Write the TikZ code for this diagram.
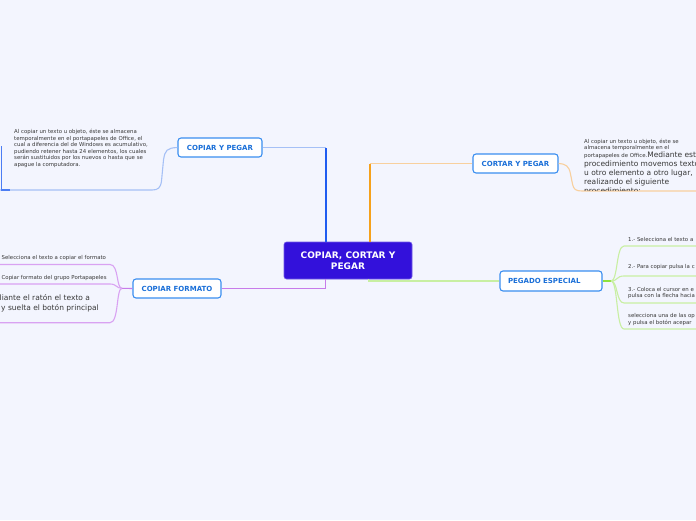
\documentclass[tikz,border=0pt]{standalone}
\usepackage{fontspec}
\setmainfont{DejaVu Sans}
\usetikzlibrary{calc}
\definecolor{bg}{HTML}{F3F5FE}
\definecolor{cfill}{HTML}{3311DB}
\definecolor{tborder}{HTML}{3A8EF0}
\definecolor{ttext}{HTML}{1A6FD8}
\definecolor{txt}{HTML}{383838}
\definecolor{bluedk}{HTML}{1F5CF0}
\definecolor{bluelt}{HTML}{A5C0F6}
\definecolor{orgdk}{HTML}{F5A11C}
\definecolor{orglt}{HTML}{F8D09E}
\definecolor{purp}{HTML}{C77BEA}
\definecolor{purplt}{HTML}{D9A2F2}
\definecolor{grnlt}{HTML}{C8EFA2}
\definecolor{grndk}{HTML}{8FE23C}
\tikzset{
  central/.style={fill=cfill, draw=cfill!70!white, line width=0.6pt, rounded corners=2.5pt,
    minimum width=128pt, minimum height=37pt, inner sep=0pt, text=white, align=center,
    font=\bfseries\fontsize{9}{10.5}\selectfont},
  topic/.style={fill=white, draw=tborder, line width=1.1pt, rounded corners=3pt,
    inner sep=0pt, text=ttext, font=\bfseries\fontsize{7}{8}\selectfont},
  small/.style={anchor=base west, inner sep=0pt, text=txt, font=\fontsize{5.4}{6}\selectfont},
  large/.style={anchor=base west, inner sep=0pt, text=txt, font=\fontsize{7.5}{9}\selectfont},
  bl1/.style={draw=bluedk, line width=1.8pt},
  bl2/.style={draw=bluelt, line width=1.1pt},
  or1/.style={draw=orgdk, line width=1.8pt},
  or2/.style={draw=orglt, line width=1.1pt},
  pu1/.style={draw=purp, line width=1.1pt},
  pu2/.style={draw=purplt, line width=1.1pt},
  gr1/.style={draw=grnlt, line width=1.1pt},
  gr2/.style={draw=grndk, line width=1.1pt},
}
\begin{document}
\begin{tikzpicture}[x=1pt,y=-1pt]
\useasboundingbox (0,0) rectangle (696,520);
\fill[bg] (0,0) rectangle (696,520);
\clip (0,0) rectangle (696,520);

% main nodes
\node[central] (c) at (348,260.5) {COPIAR, CORTAR Y\\PEGAR};
\node[topic, minimum width=84pt, minimum height=19pt] (cyp) at (220,147.5) {COPIAR Y PEGAR};
\node[topic, minimum width=85pt, minimum height=19pt] (ctp) at (515.5,163.5) {CORTAR Y PEGAR};
\node[topic, minimum width=88pt, minimum height=19pt] (cf) at (177,288.5) {COPIAR FORMATO};
\node[topic, minimum width=102pt, minimum height=20pt, text width=86pt, align=left] (pe) at (551,281) {PEGADO ESPECIAL};

% connectors from centre
\coordinate (cbt) at ($(c.north west)+(42,0)$);
\coordinate (cbk) at (cbt |- cyp.east);
\draw[bl2] (cbk) -- (cyp.east);
\draw[bl1] (cbt) -- (cbk);

\coordinate (cot) at ($(c.north west)+(86,0)$);
\coordinate (cok) at (cot |- ctp.west);
\draw[or2] (cok) -- (ctp.west);
\draw[or1] (cot) -- (cok);

\coordinate (cpb) at ($(c.south west)+(42,0)$);
\coordinate (cpk) at (cpb |- cf.east);
\draw[pu1] (cpb) -- (cpk) -- (cf.east);

\coordinate (cgb) at ($(c.south west)+(85,0)$);
\coordinate (cgk) at (cgb |- pe.west);
\draw[gr1] (cgb) -- (cgk) -- (pe.west);

% COPIAR Y PEGAR branch
\coordinate (cype) at (0,190);
\draw[bl2] (cyp.west) .. controls (167,148) and (165,150) .. (163.5,160) -- (161.5,181)
  .. controls (160.5,188) and (158,190) .. (152,190) -- (cype);
\coordinate (lvt) at (1.2,146);
\draw[draw=bluedk!80!white, line width=1.1pt] (lvt) -- (1.2,190) -- (10,190);
\foreach \i/\t in {0/{Al copiar un texto u objeto, éste se almacena},
                   1/{temporalmente en el portapapeles de Office, el},
                   2/{cual a diferencia del de Windows es acumulativo,},
                   3/{pudiendo retener hasta 24 elementos, los cuales},
                   4/{serán sustituidos por los nuevos o hasta que se},
                   5/{apague la computadora.}}
  \node[small, name=cyt\i] at (14,133.5+6.6*\i) {\t};

% CORTAR Y PEGAR branch
\coordinate (ctpe) at (696,191);
\draw[or2] (ctp.east) .. controls (566,164) and (569,166) .. (570.5,174) -- (572.5,184)
  .. controls (573.5,189.5) and (576,191) .. (582,191) -- (ctpe);
\node[small] (ct1) at (584,143.5) {Al copiar un texto u objeto, éste se};
\node[small] (ct2) at (584,149.5) {almacena temporalmente en el};
\node[anchor=base west, inner sep=0pt, text=txt] (ct3) at (584,157.5)
  {{\fontsize{5.4}{6}\selectfont portapapeles de Office.}{\fontsize{7.5}{9}\selectfont Mediante est}};
\node[large] (ct4) at (584,166.5) {procedimiento movemos texto};
\node[large] (ct5) at (584,175.5) {u otro elemento a otro lugar,};
\node[large] (ct6) at (584,184.5) {realizando el siguiente};
\begin{scope}
  \clip (580,186) rectangle (696,190.3);
  \node[large] (ct7) at (584,193.5) {procedimiento:};
\end{scope}

% COPIAR FORMATO branch
\coordinate (cfj) at (122,288.3);
\draw[pu1] (cf.west) -- (cfj);
\coordinate (cf1) at (0,264.5);
\coordinate (cf2) at (0,284);
\coordinate (cf3) at (0,322.7);
\draw[pu2] (cfj) .. controls (116,288.3) and (119,264.5) .. (110,264.5) -- (cf1);
\draw[pu2] (cfj) .. controls (116,288.3) and (117,284) .. (110,284) -- (cf2);
\draw[pu2] (cfj) .. controls (116,288.3) and (119,322.7) .. (110,322.7) -- (cf3);
\node[small] (cft1) at (1.5,259.8) {Selecciona el texto a copiar el formato};
\node[small] (cft2) at (1.5,279.5) {Copiar formato del grupo Portapapeles};
\node[large] (cft3) at (-0.5,300.8) {liante el ratón el texto a};
\node[large] (cft4) at (1,310) {y suelta el botón principal};

% PEGADO ESPECIAL branch
\coordinate (pej) at (611,281);
\draw[gr2] (pe.east) -- (pej);
\foreach \k/\y in {1/246,2/276,3/303,4/329}{
  \coordinate (pee\k) at (696,\y);
  \draw[gr1] (pej) .. controls (618,281) and (616,\y) .. (624,\y) -- (pee\k);
}
\node[small] (pt1) at (628,241.5) {1.- Selecciona el texto a};
\node[small] (pt2) at (628,268) {2.- Para copiar pulsa la c};
\node[small] (pt3) at (628,291) {3.- Coloca el cursor en e};
\node[small] (pt4) at (628,297.5) {pulsa con la flecha hacia};
\node[small] (pt5) at (628,317) {selecciona una de las op};
\node[small] (pt6) at (628,324) {y pulsa el botón acepar};
\end{tikzpicture}
\end{document}
